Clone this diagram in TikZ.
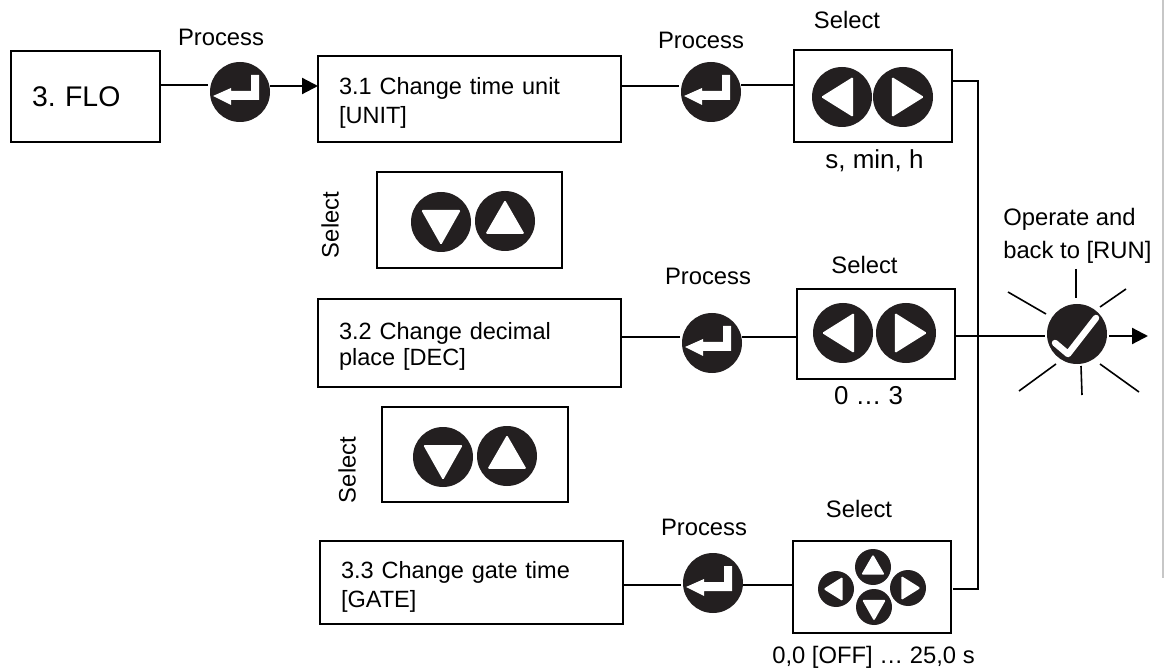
\documentclass[tikz,border=0pt]{standalone}
\usepackage{fontspec}
\setmainfont{Liberation Sans}
\usetikzlibrary{arrows.meta}
\newcommand{\pixel}{.75pt}
\newcommand{\boxstrut}[1]{\rule{0pt}{#1}}
\definecolor{keyblack}{HTML}{231F20}
\tikzstyle{menubox}  = [draw=black, line width=1.6*\pixel, outer sep=0pt, inner sep=0pt]
\tikzstyle{textbox}  = [menubox, minimum width=303*\pixel, minimum height=86*\pixel, align=left, text width=261*\pixel, font=\fontsize{17.65}{21.8}\selectfont]
\tikzstyle{lbl}      = [inner sep=0pt, anchor=base, font=\fontsize{17.85}{24.5}\selectfont]
\tikzstyle{line}     = [line width=1.6*\pixel, shorten >=2*\pixel]
\tikzstyle{arrow}    = [line width=2.2*\pixel, -{Triangle[length=16*\pixel, width=16*\pixel]}]
\tikzstyle{enterkey} = [circle, fill=keyblack, minimum size=60*\pixel, inner sep=0pt, outer sep=0pt,
  path picture={\fill[white, shift={(path picture bounding box.center)}] (19,-17) -- (11,-17) -- (11,-1) -- (-9,-1) -- (-9,-4) -- (-27,4) -- (-9,13) -- (-9,8) -- (19,8) -- cycle;}]
\tikzstyle{okkey}    = [circle, fill=keyblack, minimum size=60*\pixel, inner sep=0pt, outer sep=0pt,
  path picture={\draw[white, line width=6.5*\pixel, line join=round, line cap=round, shift={(path picture bounding box.center)}] (-22,9) -- (-9,20) -- (19,-16);}]
\tikzset{
  keybase/.style={circle, fill=keyblack, minimum size=#1*2*\pixel, inner sep=0pt, outer sep=0pt},
  keyup/.style={keybase=#1, path picture={\fill[white, rounded corners=1pt, shift={(path picture bounding box.center)}] (0,-.7*#1) -- (-.65*#1,.43*#1) -- (.65*#1,.43*#1) -- cycle;}},
  keydown/.style={keybase=#1, path picture={\fill[white, rounded corners=1pt, shift={(path picture bounding box.center)}] (0,.77*#1) -- (-.66*#1,-.4*#1) -- (.66*#1,-.4*#1) -- cycle;}},
  keyleft/.style={keybase=#1, path picture={\fill[white, rounded corners=1pt, shift={(path picture bounding box.center)}] (-.7*#1,0) -- (.37*#1,-.67*#1) -- (.37*#1,.67*#1) -- cycle;}},
  keyright/.style={keybase=#1, path picture={\fill[white, rounded corners=1pt, shift={(path picture bounding box.center)}] (.7*#1,0) -- (-.37*#1,-.67*#1) -- (-.37*#1,.67*#1) -- cycle;}},
}
\begin{document}
\frenchspacing
\begin{tikzpicture}[x=.75pt,y=-.75pt]
    \useasboundingbox (0,0) rectangle (1164,670);
    \fill[black!22] (1162,0) rectangle (1164,578);

    % menu entries
    \node[menubox, minimum width=149*\pixel, minimum height=91*\pixel, text width=107*\pixel, align=left, font=\fontsize{21.3}{25}\selectfont] (flo) at (85.5,96.5) {3. FLO};
    \node[textbox] (unit) at (469.5,99) {\boxstrut{18pt}3.1 Change time unit\\{}[UNIT]};
    \node[textbox, minimum height=88*\pixel, font=\fontsize{17.65}{19.5}\selectfont] (dec) at (469.5,343) {\boxstrut{17.25pt}3.2 Change decimal\\place [DEC]};
    \node[textbox, minimum height=83*\pixel] (gate) at (471.5,582.5) {\boxstrut{18.75pt}3.3 Change gate time\\{}[GATE]};

    % process keys
    \node[enterkey] (entera) at (240,92) {};
    \node[enterkey] (enterb) at (711,92) {};
    \node[enterkey] (enterc) at (712,343) {};
    \node[enterkey] (enterd) at (713,583) {};

    % select boxes
    \node[menubox, minimum width=158*\pixel, minimum height=92*\pixel] (selecta) at (873,96) {};
    \node[menubox, minimum width=158*\pixel, minimum height=90*\pixel] (selectb) at (876,334) {};
    \node[menubox, minimum width=158*\pixel, minimum height=92*\pixel] (selectc) at (872,587) {};
    \node[menubox, minimum width=185*\pixel, minimum height=96*\pixel] (updowna) at (469.5,220) {};
    \node[menubox, minimum width=186*\pixel, minimum height=95*\pixel] (updownb) at (475,454.5) {};

    \node[keyleft=30] (lefta) at (842,97) {};
    \node[keyright=30] (righta) at (903,97) {};
    \node[keyleft=30] (leftb) at (843,333) {};
    \node[keyright=30] (rightb) at (906,333) {};
    \node[keydown=30] (downa) at (441,222) {};
    \node[keyup=30] (upa) at (505,221) {};
    \node[keydown=30] (downb) at (443,457) {};
    \node[keyup=30] (upb) at (507,456) {};
    \node[keyup=18] (upc) at (873,567) {};
    \node[keyleft=18] (leftc) at (836,589) {};
    \node[keyright=18] (rightc) at (908,588) {};
    \node[keydown=18] (downc) at (874,607) {};

    \node[okkey] (ok) at (1077,334) {};

    % labels
    \node[lbl] (proca) at (221,46) {Process};
    \node[lbl] (procb) at (701,49) {Process};
    \node[lbl] (procc) at (708,285) {Process};
    \node[lbl] (procd) at (704,535) {Process};
    \node[lbl] (sela) at (847,29) {Select};
    \node[lbl] (selb) at (864.5,274) {Select};
    \node[lbl] (selc) at (859,517) {Select};
    \node[lbl, anchor=center, rotate=90] (seld) at (330,225) {Select};
    \node[lbl, anchor=center, rotate=90] (sele) at (347,470) {Select};
    \node[lbl, font=\fontsize{19.5}{24.5}\selectfont] (rangea) at (874.5,169) {s, min, h};
    \node[lbl, font=\fontsize{19.4}{24.5}\selectfont] (rangeb) at (868.5,404) {0 … 3};
    \node[lbl] (rangec) at (873.5,663) {0,0 [OFF] … 25,0 s};
    \node[lbl, align=left, anchor=north west] (operate) at (1003,208) {Operate and\\back to [RUN]};

    % connectors
    \draw[line] (flo.east |- 0,85) -- (entera.west |- 0,85);
    \draw[arrow] (entera.east |- 0,86) -- (unit.west |- 0,86);
    \draw[line] (unit.east |- 0,86) -- (enterb.west |- 0,86);
    \draw[line, shorten >=0pt] (enterb.east |- 0,85) -- (selecta.west |- 0,85);
    \draw[line] (dec.east |- 0,337) -- (enterc.west |- 0,337);
    \draw[line, shorten >=0pt] (enterc.east |- 0,337) -- (selectb.west |- 0,337);
    \draw[line] (gate.east |- 0,585) -- (enterd.west |- 0,585);
    \draw[line, shorten >=0pt] (enterd.east |- 0,585) -- (selectc.west |- 0,585);

    \coordinate (jtop) at (978,81);
    \coordinate (jbot) at (978,589);
    \coordinate (okout) at (1148,336);
    \draw[line width=1.6*\pixel] (selecta.east |- jtop) -- (jtop) -- (jbot) -- ([xshift=2*\pixel]selectc.east |- jbot);
    \draw[line] (selectb.east |- okout) -- (ok.west |- okout);
    \draw[arrow, shorten <=2*\pixel] (ok.east |- okout) -- (okout);

    % rays
    \foreach \xa/\ya/\xb/\yb in {-1/-65/-1/-36, 23/-27/49/-45, -69/-42/-31/-20, -21/30/-58/57, 4/32/5/61, 23/30/62/58}
        \draw[line width=1.6*\pixel] ([shift={(\xa,\ya)}]ok.center) -- ([shift={(\xb,\yb)}]ok.center);
\end{tikzpicture}
\end{document}
